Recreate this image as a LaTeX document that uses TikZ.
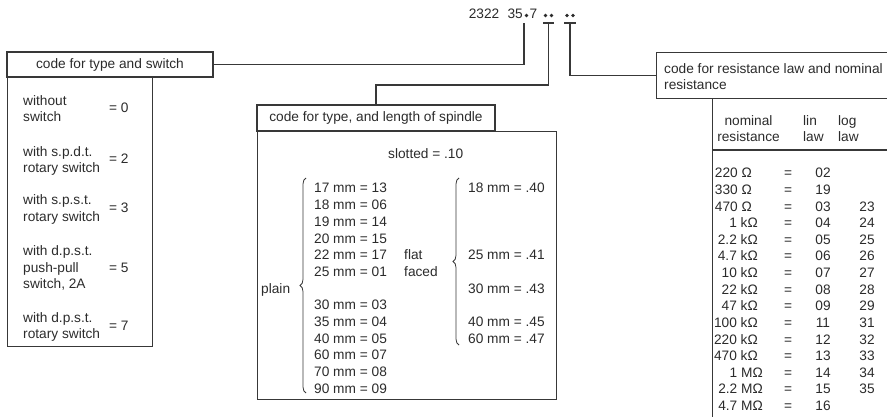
\documentclass[tikz,border=0pt]{standalone}
\usepackage{fontspec}
\setmainfont{Liberation Sans}
\usetikzlibrary{decorations.pathreplacing}
\definecolor{ink}{HTML}{2B2B2B}
\definecolor{edge}{HTML}{383838}
\begin{document}
\begin{tikzpicture}[x=1pt,y=-1pt,
  every node/.style={font=\fontsize{13.7}{16.6}\selectfont, text=ink, inner sep=0pt},
  txt/.style={anchor=base west},
  ctr/.style={anchor=base},
  rgt/.style={anchor=base east},
  frame/.style={draw=edge, line width=1.1pt},
  wire/.style={draw=edge, line width=1.1pt},
  hdr/.style={frame, align=center},
  bracket/.style={draw=edge, line width=0.8pt, decorate, decoration={brace, amplitude=6pt}},
  dotmark/.style={fill=ink, draw=none, circle, minimum size=3.6pt}
]
\useasboundingbox (0,0) rectangle (887,417);
\clip (0,0) rectangle (887,417);

% ---- code number at top
\node[rgt] (num) at (523,19) {2322\hspace{0.6em}35};
\node[dotmark] (d0) at (526.5,15.5) {};
\node[txt] (seven) at (529.5,19) {7};
\node[dotmark] (d1) at (545.5,15.5) {};
\node[dotmark] (d2) at (551.5,15.5) {};
\node[dotmark] (d3) at (567,15.5) {};
\node[dotmark] (d4) at (573,15.5) {};
\coordinate (t1) at (524,23);
\coordinate (t2) at (548.5,23);
\coordinate (t3) at (570,23);
\draw[wire] (543,23) -- (554,23);
\draw[wire] (564,23) -- (576,23);

% ---- headers and boxes
\node[hdr, minimum width=206pt, minimum height=25pt] (h1) at (110,64.5) {code for type and switch};
\node[frame, anchor=north west, minimum width=145pt, minimum height=269pt] (b1) at (7,77) {};

\node[hdr, minimum width=238pt, minimum height=26pt] (h2) at (376,118) {code for type, and length of spindle};
\node[frame, anchor=north west, minimum width=299pt, minimum height=268pt] (b2) at (257,131) {};

\node[frame, anchor=north west, minimum height=46pt, minimum width=260pt] (h3) at (656,52) {};
\node[txt] (h3a) at (664,74) {code for resistance law and nominal};
\node[txt] (h3b) at (664,90) {resistance};
\node[frame, anchor=north west, minimum width=220pt, minimum height=340pt] (b3) at (712,98) {};

% ---- connectors
\draw[wire] (h1.east) -| (t1);
\draw[wire] (t2) -- ++(0,62) -| (h2.north);
\draw[wire] (t3) |- (h3.west);

% ---- left box contents
\node[txt] (a1) at (23,105.2) {without};
\node[txt] (a2) at (23,121.8) {switch};
\node[txt] (e0) at (109,113) {= 0};
\node[txt] (a3) at (23,156.2) {with s.p.d.t.};
\node[txt] (a4) at (23,172.8) {rotary switch};
\node[txt] (e2) at (109,163.5) {= 2};
\node[txt] (a5) at (23,204.7) {with s.p.s.t.};
\node[txt] (a6) at (23,221.3) {rotary switch};
\node[txt] (e3) at (109,212) {= 3};
\node[txt] (a7) at (23,255.4) {with d.p.s.t.};
\node[txt] (a8) at (23,272) {push-pull};
\node[txt] (a9) at (23,288.6) {switch, 2A};
\node[txt] (e5) at (109,272) {= 5};
\node[txt] (a10) at (23,322.2) {with d.p.s.t.};
\node[txt] (a11) at (23,338.8) {rotary switch};
\node[txt] (e7) at (109,330.5) {= 7};

% ---- middle box contents
\node[txt] (slot) at (388,159) {slotted = .10};
\foreach \r/\t in {0/17 mm = 13, 1/18 mm = 06, 2/19 mm = 14, 3/20 mm = 15, 4/22 mm = 17, 5/25 mm = 01,
                   7/30 mm = 03, 8/35 mm = 04, 9/40 mm = 05, 10/60 mm = 07, 11/70 mm = 08, 12/90 mm = 09}
  \node[txt] (pl\r) at (314,{188+16.67*\r+5}) {\t};
\foreach \r/\t in {0/18 mm = .40, 4/25 mm = .41, 6/30 mm = .43, 8/40 mm = .45, 9/60 mm = .47}
  \node[txt] (ff\r) at (468,{188+16.67*\r+5}) {\t};
\node[txt] (flat) at (404,{188+16.67*4+5}) {flat};
\node[txt] (faced) at (404,{188+16.67*5+5}) {faced};
\node[txt] (plain) at (261,{188+16.67*6+5}) {plain};
\draw[bracket] (306,393) -- (306,178);
\draw[bracket] (459,345) -- (459,178);

% ---- right table
\node[ctr] (hn1) at (748.5,126) {nominal};
\node[ctr] (hn2) at (748.5,142) {resistance};
\node[txt] (hl1) at (803,126) {lin};
\node[txt] (hl2) at (803,142) {law};
\node[txt] (hg1) at (838,126) {log};
\node[txt] (hg2) at (838,142) {law};
\draw[frame] (712,150) -- (887,150);
\foreach \r/\v/\x/\l in {0/220 Ω/752/02, 1/330 Ω/752/19, 2/470 Ω/752/03, 3/1 kΩ/758/04,
    4/2.2 kΩ/758/05, 5/4.7 kΩ/758/06, 6/10 kΩ/758/07, 7/22 kΩ/758/08, 8/47 kΩ/758/09,
    9/100 kΩ/758/11, 10/220 kΩ/758/12, 11/470 kΩ/758/13, 12/1 MΩ/763/14, 13/2.2 MΩ/763/15,
    14/4.7 MΩ/763/16}
{
  \node[rgt] (rv\r) at (\x,{173+16.6*\r+5}) {\v};
  \node[ctr] (req\r) at (788,{173+16.6*\r+5}) {=};
  \node[ctr] (rl\r) at (823,{173+16.6*\r+5}) {\l};
}
\foreach \r/\g in {2/23, 3/24, 4/25, 5/26, 6/27, 7/28, 8/29, 9/31, 10/32, 11/33, 12/34, 13/35}
  \node[ctr] (rg\r) at (867,{173+16.6*\r+5}) {\g};
\end{tikzpicture}
\end{document}
